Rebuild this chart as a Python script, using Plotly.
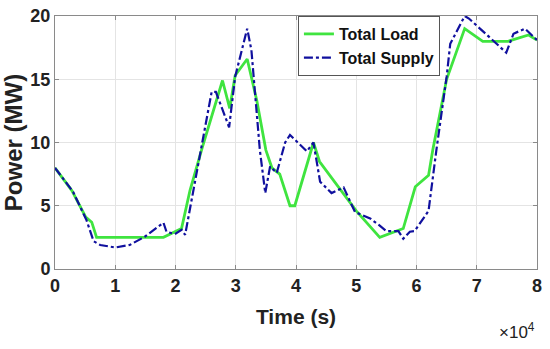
import plotly.graph_objects as go

# time in units of 1e4 s
load_t = [0, 0.28, 0.51, 0.61, 0.69, 1.8, 2.1, 2.24, 2.45, 2.78, 2.9, 2.99, 3.19, 3.35, 3.5, 3.6, 3.73, 3.9, 3.98, 4.29, 4.39, 5.0, 5.39, 5.78, 5.98, 6.2, 6.27, 6.5, 6.8, 7.1, 7.52, 7.86, 8.0]
load_p = [8.0, 6.2, 4.1, 3.7, 2.5, 2.5, 3.2, 6.2, 9.7, 14.9, 12.7, 15.3, 16.6, 13.3, 9.4, 8.0, 7.5, 5.0, 5.0, 10.0, 8.5, 4.6, 2.5, 3.2, 6.5, 7.4, 9.4, 15.0, 19.0, 18.0, 18.0, 18.5, 18.1]

supply_t = [0, 0.3, 0.52, 0.64, 0.75, 1.0, 1.24, 1.49, 1.8, 1.85, 1.99, 2.1, 2.16, 2.6, 2.67, 2.89, 2.99, 3.19, 3.26, 3.4, 3.49, 3.57, 3.68, 3.82, 3.9, 4.18, 4.29, 4.4, 4.59, 4.79, 4.98, 5.23, 5.37, 5.5, 5.7, 5.78, 5.89, 5.97, 6.2, 6.33, 6.5, 6.56, 6.8, 6.87, 7.17, 7.49, 7.61, 7.8, 8.0]
supply_p = [8.0, 6.1, 3.9, 2.2, 1.9, 1.7, 1.9, 2.55, 3.66, 2.95, 2.76, 3.1, 2.7, 14.0, 14.0, 11.2, 15.2, 19.0, 17.3, 9.4, 6.0, 8.1, 7.6, 10.0, 10.6, 9.3, 10.0, 6.9, 6.0, 6.45, 4.5, 4.0, 3.5, 3.0, 3.0, 2.4, 2.95, 3.0, 4.6, 9.4, 15.2, 17.8, 20.0, 19.8, 18.5, 17.1, 18.6, 19.0, 18.1]

x_ticks = [0, 1, 2, 3, 4, 5, 6, 7, 8]
y_ticks = [0, 5, 10, 15, 20]

SCALE = 10000
FONT = "Liberation Sans, Arial, sans-serif"

fig = go.Figure()
fig.add_trace(go.Scatter(
    x=[t * SCALE for t in load_t], y=load_p, mode="lines", name="Total Load",
    line=dict(color="#3fe43f", width=2.8)))
fig.add_trace(go.Scatter(
    x=[t * SCALE for t in supply_t], y=supply_p, mode="lines", name="Total Supply",
    line=dict(color="#10109e", width=2.2, dash="dashdot")))

axis_common = dict(
    showgrid=True, gridcolor="#e4e4e4", gridwidth=1,
    showline=True, linecolor="#8a8a8a", linewidth=1, mirror="ticks",
    ticks="inside", ticklen=4, tickcolor="#8a8a8a",
    zeroline=False, automargin=False, ticklabeloverflow="allow",
    tickfont=dict(family=FONT, size=18, color="#222222", weight="bold"),
)

fig.update_layout(
    width=550, height=349,
    margin=dict(l=55, r=13, t=16, b=80),
    paper_bgcolor="white", plot_bgcolor="white",
    showlegend=True,
    legend=dict(
        x=0.504, y=1.0, xanchor="left", yanchor="top",
        bgcolor="white", bordercolor="#555555", borderwidth=1,
        font=dict(family=FONT, size=16, color="#111111", weight="bold"),
        tracegroupgap=0, itemwidth=30,
    ),
    xaxis=dict(
        range=[0, 8 * SCALE],
        tickvals=[v * SCALE for v in x_ticks],
        ticktext=[str(v) for v in x_ticks],
        title=dict(text="Time (s)", font=dict(family=FONT, size=21, color="#222222", weight="bold"), standoff=14),
        **axis_common,
    ),
    yaxis=dict(
        range=[0, 20],
        tickvals=y_ticks,
        ticktext=[str(v) for v in y_ticks],
        title=dict(text="Power (MW)", font=dict(family=FONT, size=24, color="#222222", weight="bold"), standoff=0),
        **axis_common,
    ),
    annotations=[dict(
        text="\u00d710<sup>4</sup>", xref="paper", yref="paper",
        x=1.0, y=-0.245, xanchor="right", yanchor="middle", showarrow=False,
        font=dict(family=FONT, size=17, color="#222222"),
    )],
)

fig.write_html(
    "out.html",
    config={"displayModeBar": False},
    post_script="document.body.style.margin='0';document.body.style.padding='0';",
)
